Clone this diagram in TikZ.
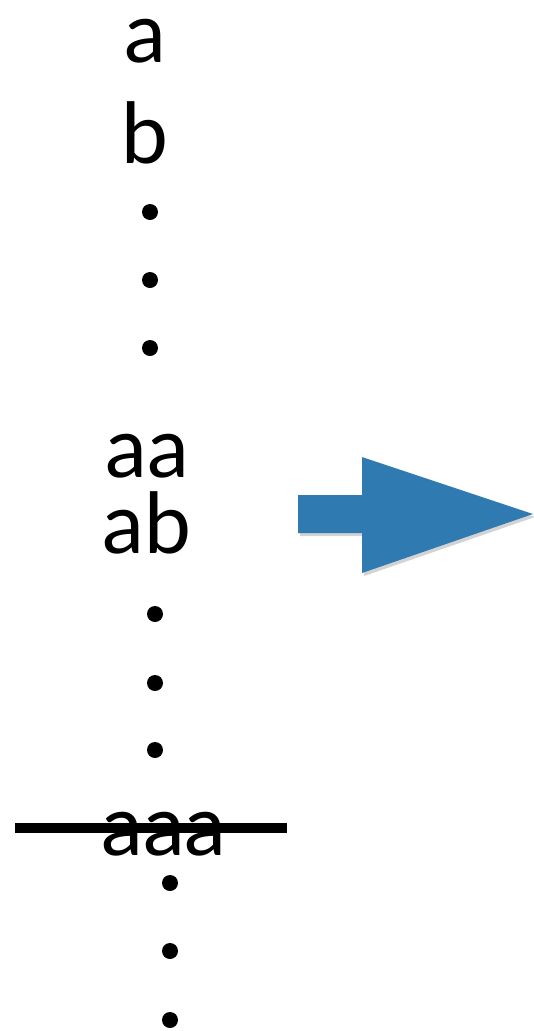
\documentclass[tikz,border=0pt]{standalone}
\usepackage{fontspec}
\setmainfont{Lato}
\usetikzlibrary{shadows}
\definecolor{arrowblue}{RGB}{47,122,176}
\tikzset{
  word/.style={anchor=base, inner sep=0pt, font=\fontsize{84}{84}\selectfont},
  dot/.style={fill=black},
}
\begin{document}
\begin{tikzpicture}[x=1pt, y=-1pt]
    \useasboundingbox (0,0) rectangle (534,1031);

    % First block
    \node[word, text height=0.55em] (a) at (145,62) {a};
    \node[word] (b) at (145,163) {b};
    \foreach \y in {212,280,348} \fill[dot] (150,\y) circle (8);

    % Second block
    \node[word] (aa) at (147,477) {aa};
    \node[word] (ab) at (147,553) {ab};
    \foreach \y in {614,683,750} \fill[dot] (155,\y) circle (8);

    % Third block, struck out
    \node[word] (aaa) at (164,855) {aaa};
    \coordinate (strikeL) at (15,828);
    \coordinate (strikeR) at (287,828);
    \draw[line width=10pt] (strikeL) -- (strikeR);
    \foreach \y in {883,951,1020} \fill[dot] (170,\y) circle (8);

    % Big arrow
    \fill[arrowblue, drop shadow={opacity=0.35, shadow xshift=2pt, shadow yshift=-3pt}]
        (298,495) -- (362,495) -- (362,457) -- (533,514) -- (362,573)
        -- (362,533) -- (298,533) -- cycle;
\end{tikzpicture}
\end{document}
